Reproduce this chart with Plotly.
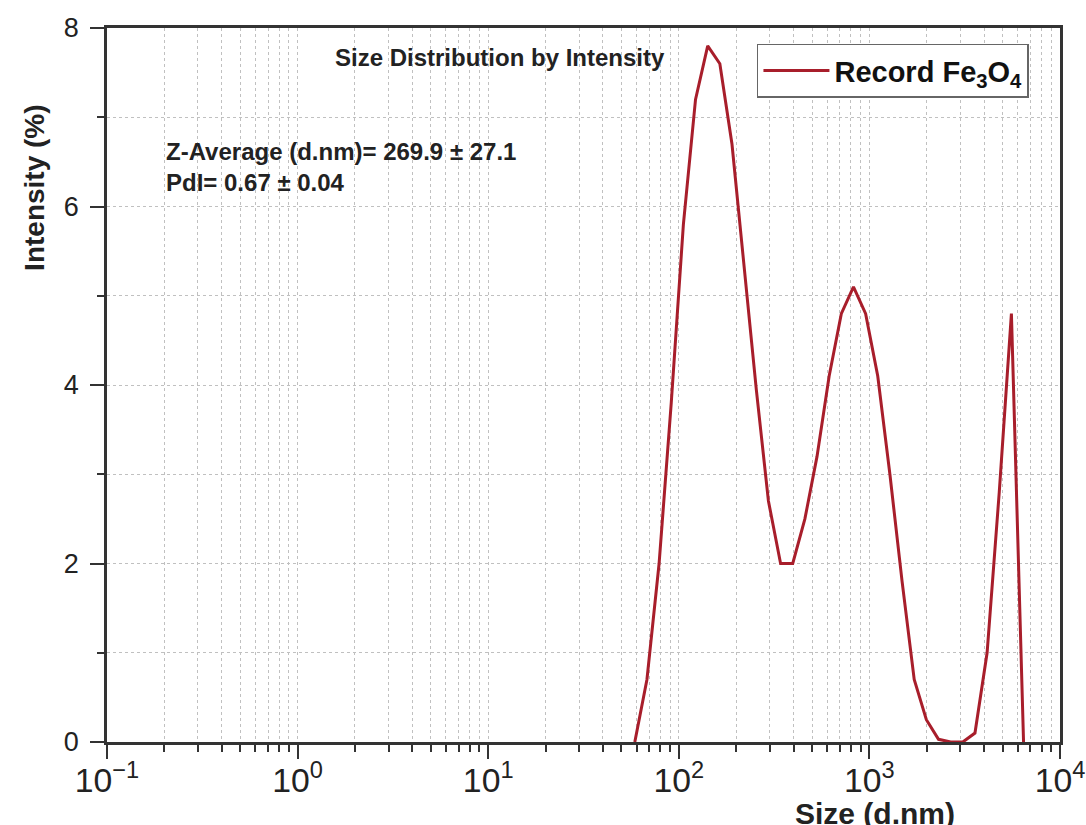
import plotly.graph_objects as go

# DLS size bins (d.nm) and intensity (%)
size_nm = [58.77, 68.06, 78.82, 91.28, 105.7, 122.4, 141.8, 164.2, 190.1,
           220.2, 255.0, 295.3, 342.0, 396.1, 458.7, 531.2, 615.1, 712.4, 825.0,
           955.4, 1106, 1281, 1484, 1718, 1990, 2305, 2669, 3091, 3580,
           4145, 4801, 5560, 6439]
intensity = [0, 0.7, 2.0, 3.8, 5.8, 7.2, 7.8, 7.6, 6.7,
             5.3, 3.95, 2.7, 2.0, 2.0, 2.5, 3.2, 4.1, 4.8, 5.1,
             4.8, 4.1, 3.0, 1.8, 0.7, 0.25, 0.03, 0, 0, 0.1,
             1.0, 2.8, 4.8, 0]

series_name = "<b>Record Fe<sub>3</sub>O<sub>4</sub></b>"
chart_title = "<b>Size Distribution by Intensity</b>"
stats_text = "<b>Z-Average (d.nm)= 269.9 ± 27.1<br>PdI= 0.67 ± 0.04</b>"
x_title = "<b>Size (d.nm)</b>"
y_title = "<b>Intensity (%)</b>"
x_label_alias = {"1": "10<sup>0</sup>", "10": "10<sup>1</sup>"}

FONT = "Liberation Sans, Arial, sans-serif"
AXIS_COLOR = "#333333"
GRID_COLOR = "#c0c0c0"

fig = go.Figure()
fig.add_trace(go.Scatter(
    x=size_nm, y=intensity, mode="lines", name=series_name,
    line=dict(color="#A81E2B", width=3),
))

fig.update_layout(
    width=1086, height=825,
    margin=dict(l=107, r=26, t=28, b=83),
    paper_bgcolor="white", plot_bgcolor="white",
    font=dict(family=FONT, color="#222222"),
    showlegend=True,
    legend=dict(
        x=0.682, y=0.978, xanchor="left", yanchor="top",
        bgcolor="white", bordercolor="#666666", borderwidth=1.5,
        font=dict(size=29, family=FONT, color="#111111"),
        itemwidth=66,
    ),
)

fig.update_xaxes(
    type="log", range=[-1, 4], dtick=1, exponentformat="power",
    labelalias=x_label_alias, automargin=False, ticklabelstandoff=-6,
    showline=True, linecolor=AXIS_COLOR, linewidth=2.5, mirror=True,
    ticks="outside", ticklen=14, tickwidth=2, tickcolor=AXIS_COLOR,
    tickfont=dict(size=27, family=FONT, color="#222222"),
    showgrid=True, gridcolor=GRID_COLOR, griddash="dot", gridwidth=1,
    zeroline=False,
    minor=dict(dtick="D1", ticks="outside", ticklen=7, tickwidth=2,
               tickcolor=AXIS_COLOR, showgrid=True, gridcolor=GRID_COLOR,
               griddash="dot", gridwidth=1),
)
fig.update_yaxes(
    range=[0, 8], dtick=2, automargin=False, ticklabelstandoff=6,
    showline=True, linecolor=AXIS_COLOR, linewidth=2.5, mirror=True,
    ticks="outside", ticklen=14, tickwidth=2, tickcolor=AXIS_COLOR,
    tickfont=dict(size=27, family=FONT, color="#222222"),
    showgrid=True, gridcolor=GRID_COLOR, griddash="dot", gridwidth=1,
    zeroline=False,
    minor=dict(dtick=1, ticks="outside", ticklen=7, tickwidth=2,
               tickcolor=AXIS_COLOR, showgrid=True, gridcolor=GRID_COLOR,
               griddash="dot", gridwidth=1),
)

fig.add_annotation(text=chart_title, xref="paper", yref="paper",
                   x=0.412, y=0.959, xanchor="center", yanchor="middle",
                   showarrow=False, font=dict(size=24, family=FONT, color="#222222"))
fig.add_annotation(text=stats_text, xref="paper", yref="paper",
                   x=0.06, y=0.806, xanchor="left", yanchor="middle", align="left",
                   showarrow=False, font=dict(size=24, family=FONT, color="#222222"))
fig.add_annotation(text=y_title, xref="paper", yref="paper",
                   x=-0.0756, y=0.776, xanchor="center", yanchor="middle",
                   textangle=-90, showarrow=False,
                   font=dict(size=28, family=FONT, color="#222222"))
fig.add_annotation(text=x_title, xref="paper", yref="paper",
                   x=0.806, y=-0.1, xanchor="center", yanchor="middle",
                   showarrow=False, font=dict(size=30, family=FONT, color="#222222"))

fig.write_html("out.html", config={"displayModeBar": False},
               post_script="document.body.style.margin='0';")
